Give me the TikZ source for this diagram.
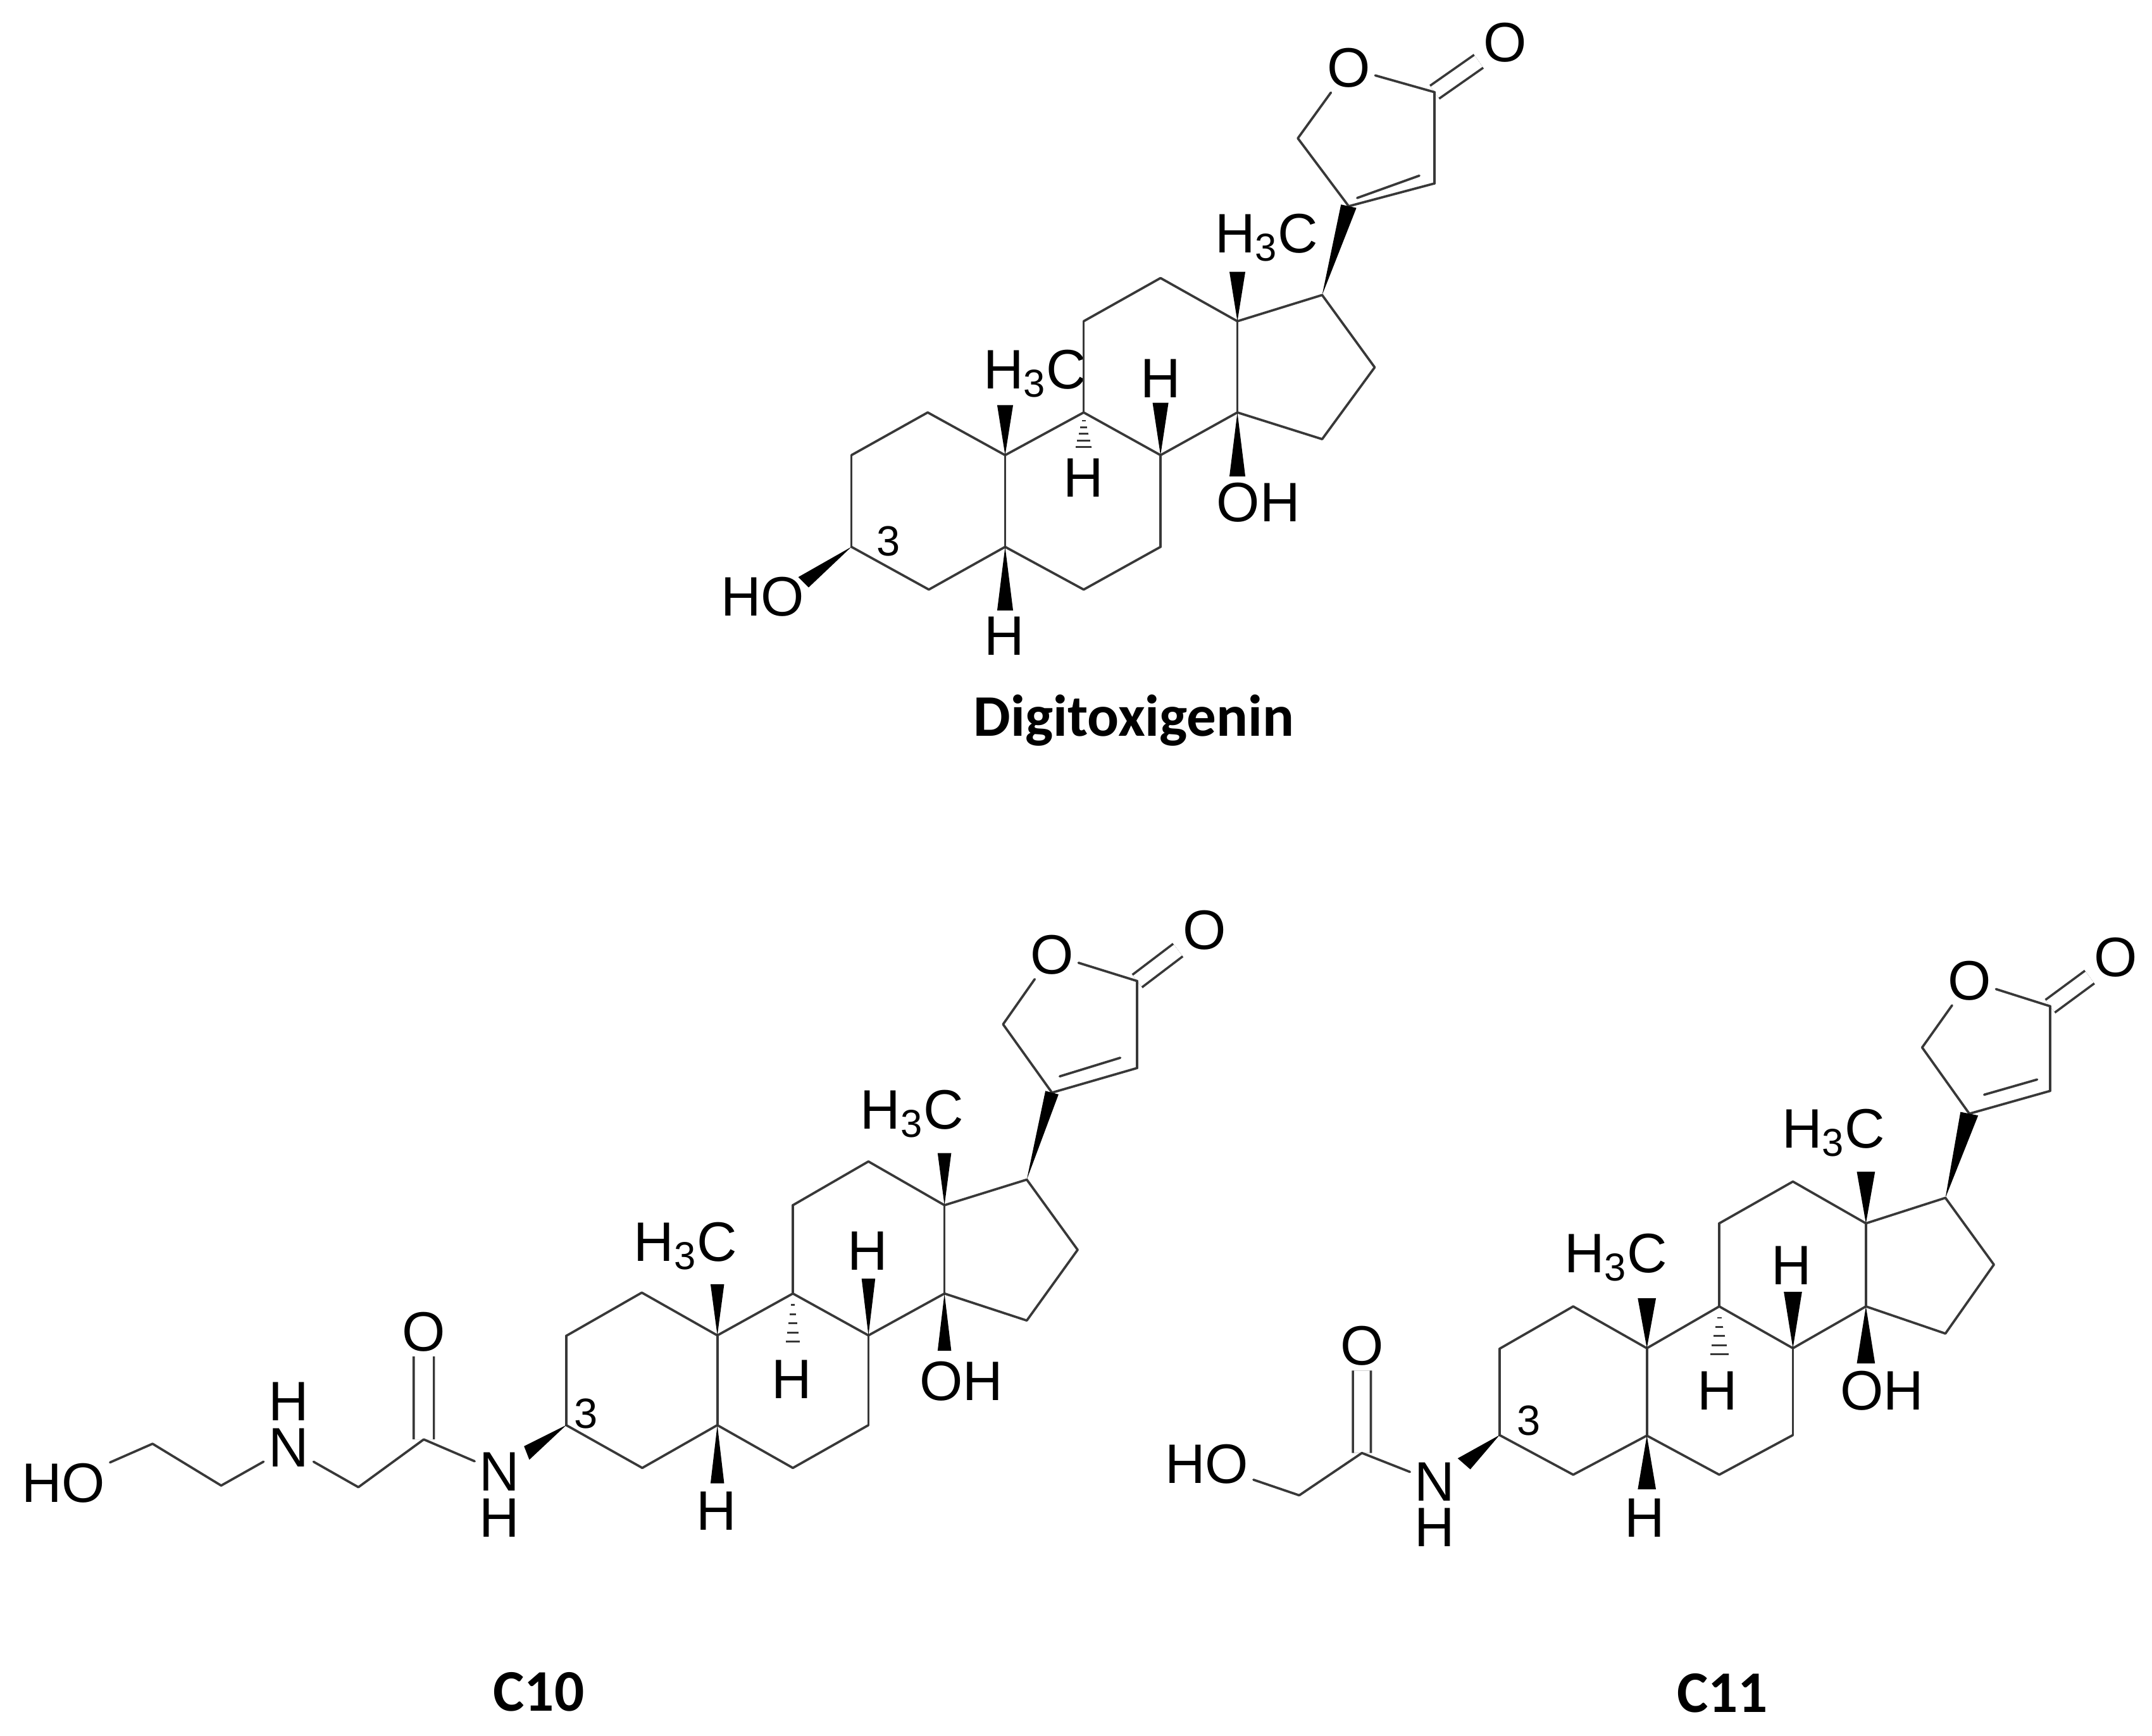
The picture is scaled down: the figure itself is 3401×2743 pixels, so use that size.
\documentclass[tikz,border=0pt]{standalone}
\usepackage{fontspec}
\setmainfont{Liberation Sans}
\newfontfamily\namefont{Carlito}
\usetikzlibrary{calc}
\definecolor{bondgray}{gray}{0.22}
\tikzset{
  bond/.style={draw=bondgray, line width=1.05pt, line cap=round},
  dblbond/.style={draw=bondgray, line width=1.05pt, double, double distance=#1},
  dblbond/.default=6pt,
  wedgebond/.style={fill=black, draw=none},
  hashline/.style={draw=bondgray, line width=0.8pt},
  atom/.style={font=\fontsize{25}{30}\selectfont, text=black, inner sep=2pt},
  locant/.style={font=\fontsize{19}{23}\selectfont, text=black, inner sep=0pt},
  molname/.style={font=\namefont\bfseries\fontsize{26.5}{32}\selectfont, text=black, inner sep=0pt}
}
\newcommand{\placeatoms}[2]{
  \foreach \n/\x/\y in {#2} \coordinate (#1\n) at (\x,\y);
}
\newcommand{\wedgeto}[2]{
  \fill[wedgebond] (#1) -- ($(#2)!4pt!90:(#1)$) -- ($(#2)!4pt!-90:(#1)$) -- cycle;
}
\newcommand{\steroid}[1]{
  \node[atom] (#1mea) at (#1la) {H\textsubscript{3}C};
  \node[atom] (#1meb) at (#1lb) {H\textsubscript{3}C};
  \node[atom] (#1ha) at (#1lc) {H};
  \node[atom] (#1hb) at (#1ld) {H};
  \node[atom] (#1hc) at (#1lf) {H};
  \node[atom] (#1oh) at (#1le) {OH};
  \node[locant] (#1three) at (#1lg) {3};
  \node[atom] (#1oring) at (#1po) {O};
  \node[atom] (#1oket) at (#1pk) {O};
  \draw[dblbond] (#1c23) -- (#1oket);
  \foreach \a/\b in {c1/c2,c2/c10,c10/c5,c5/c4,c4/c3,c3/c1,c10/c9,c9/c8,c8/c7,c7/c6,c6/c5,c9/c11,c11/c12,c12/c13,c13/c14,c14/c8,c13/c17,c17/c16,c16/c15,c15/c14,c20/c21,c23/c22,c22/c20,i20/i22}
    \draw[bond] (#1\a) -- (#1\b);
  \draw[bond] (#1c21) -- (#1oring);
  \draw[bond] (#1oring) -- (#1c23);
  \foreach \a/\b in {c13/w13,c10/w10,c8/w8,c14/w14,c5/w5,c17/c20}
    \wedgeto{#1\a}{#1\b}
  \foreach \t in {0.2,0.36,0.52,0.68,0.84,1}
    \draw[hashline] ($(#1c9)!\t!(#1h9)!\t*4.8pt!90:(#1h9)$) -- ($(#1c9)!\t!(#1h9)!\t*4.8pt!-90:(#1h9)$);
}

\begin{document}
\begin{tikzpicture}[x=0.01cm,y=-0.01cm]
    \useasboundingbox (0,0) rectangle (3401,2743);

    \begin{scope}[shift={(1100,0)},xscale=0.893,yscale=0.767]
    \placeatoms{d}{c1/275/938,c2/410/850,c10/547/938,c5/547/1127,c4/412/1215,c3/275/1127,
      c9/686/850,c8/822/938,c7/822/1127,c6/686/1215,c11/686/662,c12/822/573,c13/958/662,c14/958/850,
      c17/1108/608,c16/1201/757,c15/1108/905,c20/1155/425,c21/1065/285,c23/1307/190,c22/1307/378,
      i20/1170/408,i22/1280/362,po/1155/140,pk/1432/88,
      w13/958/560,w10/547/835,w8/822/830,w14/958/982,w5/547/1258,h9/686/935,
      la/1010/490,lb/600/770,lc/822/780,ld/686/985,le/995/1035,lf/546/1310,lg/340/1115}
    \steroid{d}
    \node[atom] (dho) at (118,1230) {HO};
    \coordinate (dtip) at (190,1200);
    \wedgeto{dc3}{dtip}
    \node[molname] (dname) at (775,1485) {Digitoxigenin};
    \end{scope}

    \begin{scope}[shift={(800,1400)},xscale=0.7653,yscale=0.735]
    \placeatoms{t}{c1/124/968,c2/280/875,c10/436/967,c5/436/1160,c4/281/1252,c3/124/1160,
      c9/592/877,c8/748/967,c7/748/1160,c6/592/1252,c11/592/687,c12/748/593,c13/905/687,c14/905/877,
      c17/1075/632,c16/1180/783,c15/1075/935,c20/1127/445,c21/1026/298,c23/1303/205,c22/1303/392,
      i20/1143/410,i22/1268/370,po/1127/148,pk/1442/95,
      w13/905/575,w10/436/857,w8/748/845,w14/905/1000,w5/436/1285,h9/592/1000,
      la/838/490,lb/370/775,lc/746/785,ld/590/1062,le/940/1065,lf/434/1345,lg/165/1135}
    \steroid{t}
    \end{scope}

    \begin{scope}[shift={(0,1400)},xscale=0.6378,yscale=0.858]
    \placeatoms{t}{a1/378/1028,a2/548/1105,a3/888/1108,a4/1050/1020,tip/1305/1045}
    \node[atom] (tho) at (157,1100) {HO};
    \node[atom] (tnb) at (715,1035) {N};
    \node[atom] (thb) at (715,950) {H};
    \node[atom] (toam) at (1050,822) {O};
    \node[atom] (tna) at (1238,1080) {N};
    \node[atom] (tha) at (1238,1165) {H};
    \draw[dblbond=8pt] (ta4) -- (toam);
    \foreach \a/\b in {tho/ta1,ta1/ta2,ta2/tnb,tnb/ta3,ta3/ta4,ta4/tna}
      \draw[bond] (\a) -- (\b);
    \wedgeto{tc3}{ttip}
    \node[molname] (tname) at (1335,1485) {C10};
    \end{scope}

    \begin{scope}[shift={(1800,1400)},xscale=1.021,yscale=0.858]
    \placeatoms{e}{c1/558/853,c2/672/775,c10/786/852,c5/786/1013,c4/672/1085,c3/558/1012,
      c9/898/775,c8/1012/852,c7/1012/1012,c6/898/1085,c11/898/622,c12/1012/545,c13/1125/622,c14/1125/775,
      c17/1248/575,c16/1323/698,c15/1248/825,c20/1285/420,c21/1212/298,c23/1410/222,c22/1410/378,
      i20/1308/385,i22/1390/357,po/1285/175,pk/1512/132,
      w13/1125/527,w10/786/760,w8/1012/748,w14/1125/880,w5/786/1112,h9/898/880,
      la/1075/455,lb/738/685,lc/1010/700,ld/895/930,le/1150/930,lf/783/1165,lg/603/985,
      a1/248/1123,a2/345/1045,tip/503/1065}
    \steroid{e}
    \node[atom] (eho) at (105,1065) {HO};
    \node[atom] (eoam) at (345,848) {O};
    \node[atom] (ena) at (458,1098) {N};
    \node[atom] (eha) at (458,1182) {H};
    \draw[dblbond=7pt] (ea2) -- (eoam);
    \foreach \a/\b in {eho/ea1,ea1/ea2,ea2/ena}
      \draw[bond] (\a) -- (\b);
    \wedgeto{ec3}{etip}
    \node[molname] (ename) at (903,1488) {C11};
    \end{scope}
\end{tikzpicture}
\end{document}
